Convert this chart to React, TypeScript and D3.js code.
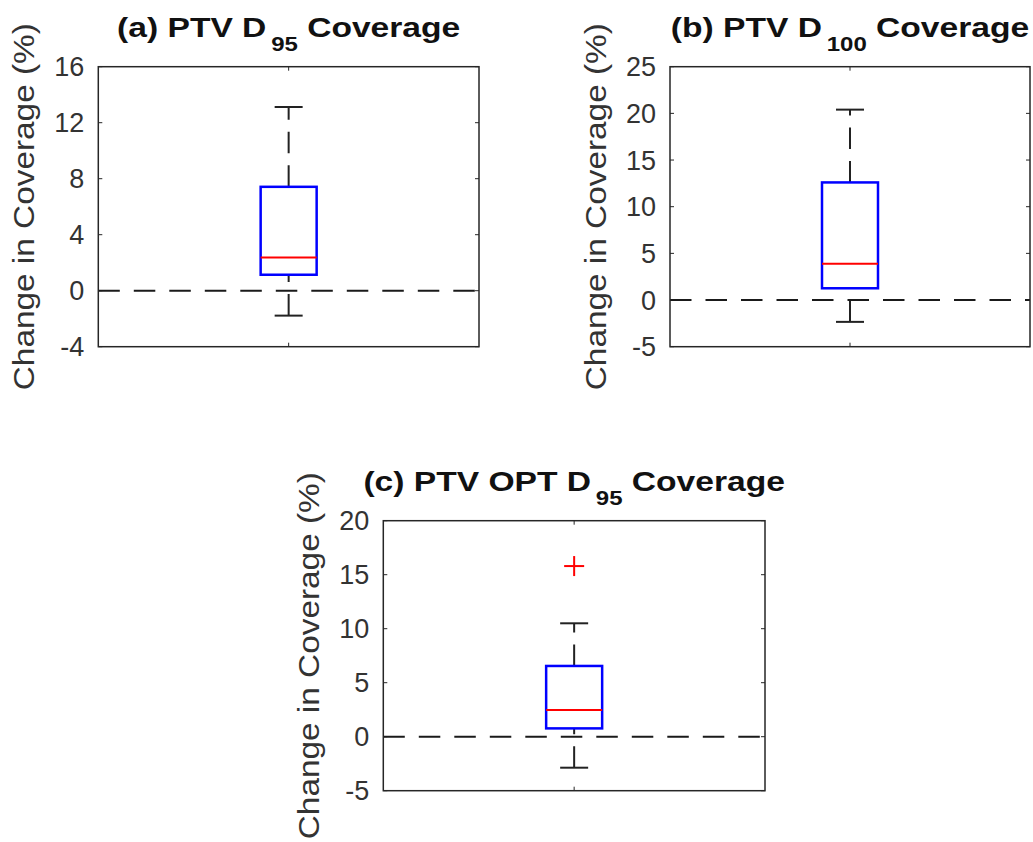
import React from "react";
import * as d3 from "d3";

// ---- data ----
const panelIds = ["a", "b", "c"];
const titleMain = ["(a) PTV D", "(b) PTV D", "(c) PTV OPT D"];
const titleSub = ["95", "100", "95"];
const titleTail = [" Coverage", " Coverage", " Coverage"];
const yLabel = "Change in Coverage (%)";

const ticksA = [-4, 0, 4, 8, 12, 16];
const ticksB = [-5, 0, 5, 10, 15, 20, 25];
const ticksC = [-5, 0, 5, 10, 15, 20];

const lowerWhisker = [-1.78, -2.34, -2.87];
const q1 = [1.14, 1.26, 0.77];
const median = [2.37, 3.88, 2.47];
const q3 = [7.42, 12.6, 6.55];
const upperWhisker = [13.12, 20.4, 10.5];
const outliersA: number[] = [];
const outliersB: number[] = [];
const outliersC = [15.8];

const tickSets = [ticksA, ticksB, ticksC];
const outlierSets = [outliersA, outliersB, outliersC];

// ---- layout ----
const layouts = [
  { left: 98.3, right: 479, top: 66.7, bottom: 346.7 },
  { left: 670, right: 1030, top: 66.7, bottom: 346.7 },
  { left: 383.3, right: 765, top: 520.7, bottom: 790.7 },
];

const FONT = '"Liberation Sans", Arial, Helvetica, sans-serif';
const AX = "#262626";
const BOX_HALF = 28;
const CAP_HALF = 14;

function Panel({ i }: { i: number }) {
  const L = layouts[i];
  const ticks = tickSets[i];
  const y = d3
    .scaleLinear()
    .domain([ticks[0], ticks[ticks.length - 1]])
    .range([L.bottom, L.top]);
  const x = d3.scaleLinear().domain([0.5, 1.5]).range([L.left, L.right]);
  const cx = x(1);
  const tcx = (L.left + L.right) / 2;
  const cy = (L.top + L.bottom) / 2;
  const tickLen = 4;

  return (
    <g>
      {/* title */}
      <text
        transform={`translate(${tcx},${L.top - 30}) scale(1.2,1)`}
        textAnchor="middle"
        fontFamily={FONT}
        fontWeight="bold"
        fontSize={28}
        fill="#111"
      >
        <tspan>{titleMain[i]}</tspan>
        <tspan dx={4} dy={14} fontSize={20}>
          {titleSub[i]}
        </tspan>
        <tspan dy={-14}>{titleTail[i]}</tspan>
      </text>

      {/* y label */}
      <text
        transform={`translate(${L.left - 64},${cy}) rotate(-90) scale(1.15,1)`}
        textAnchor="middle"
        fontFamily={FONT}
        fontSize={29}
        fill="#333"
      >
        {yLabel}
      </text>

      {/* tick labels */}
      {ticks.map((t) => (
        <text
          key={"tl" + t}
          x={L.left - 14}
          y={y(t)}
          dy="0.36em"
          textAnchor="end"
          fontFamily={FONT}
          fontSize={27}
          fill="#333"
        >
          {t}
        </text>
      ))}

      {/* tick marks */}
      {ticks.map((t) => (
        <g key={"tm" + t} stroke={AX} strokeWidth={1}>
          <line x1={L.left} x2={L.left + tickLen} y1={y(t)} y2={y(t)} />
          <line x1={L.right} x2={L.right - tickLen} y1={y(t)} y2={y(t)} />
        </g>
      ))}
      <line x1={cx} x2={cx} y1={L.top} y2={L.top + tickLen} stroke={AX} strokeWidth={1} />
      <line x1={cx} x2={cx} y1={L.bottom} y2={L.bottom - tickLen} stroke={AX} strokeWidth={1} />

      {/* whiskers (drawn from lower endpoint upward) */}
      <line
        x1={cx}
        x2={cx}
        y1={y(q3[i])}
        y2={y(upperWhisker[i])}
        stroke="#222"
        strokeWidth={2}
        strokeDasharray="21.5 12"
      />
      <line
        x1={cx}
        x2={cx}
        y1={y(lowerWhisker[i])}
        y2={y(q1[i])}
        stroke="#222"
        strokeWidth={2}
        strokeDasharray="21.5 12"
      />
      <line
        x1={cx - CAP_HALF}
        x2={cx + CAP_HALF}
        y1={y(upperWhisker[i])}
        y2={y(upperWhisker[i])}
        stroke="#222"
        strokeWidth={2}
      />
      <line
        x1={cx - CAP_HALF}
        x2={cx + CAP_HALF}
        y1={y(lowerWhisker[i])}
        y2={y(lowerWhisker[i])}
        stroke="#222"
        strokeWidth={2}
      />

      {/* zero reference line */}
      <line
        x1={L.left}
        x2={L.right}
        y1={y(0)}
        y2={y(0)}
        stroke="#1a1a1a"
        strokeWidth={2}
        strokeDasharray="21.5 14"
      />

      {/* box */}
      <rect
        x={cx - BOX_HALF}
        y={y(q3[i])}
        width={BOX_HALF * 2}
        height={y(q1[i]) - y(q3[i])}
        fill="none"
        stroke="#0000ff"
        strokeWidth={2.5}
      />
      <line
        x1={cx - BOX_HALF}
        x2={cx + BOX_HALF}
        y1={y(median[i])}
        y2={y(median[i])}
        stroke="#ff0000"
        strokeWidth={2}
      />

      {/* outliers */}
      {outlierSets[i].map((o, k) => (
        <g key={"o" + k} stroke="#ff0000" strokeWidth={2}>
          <line x1={cx - 10} x2={cx + 10} y1={y(o)} y2={y(o)} />
          <line x1={cx} x2={cx} y1={y(o) - 10} y2={y(o) + 10} />
        </g>
      ))}

      {/* frame */}
      <rect
        x={L.left}
        y={L.top}
        width={L.right - L.left}
        height={L.bottom - L.top}
        fill="none"
        stroke={AX}
        strokeWidth={1.5}
      />
    </g>
  );
}

export default function App() {
  return (
    <svg
      width={1033}
      height={842}
      style={{ position: "absolute", left: 0, top: 0, background: "#fff" }}
    >
      <rect x={0} y={0} width={1033} height={842} fill="#fff" />
      {panelIds.map((id, i) => (
        <Panel key={id} i={i} />
      ))}
    </svg>
  );
}
